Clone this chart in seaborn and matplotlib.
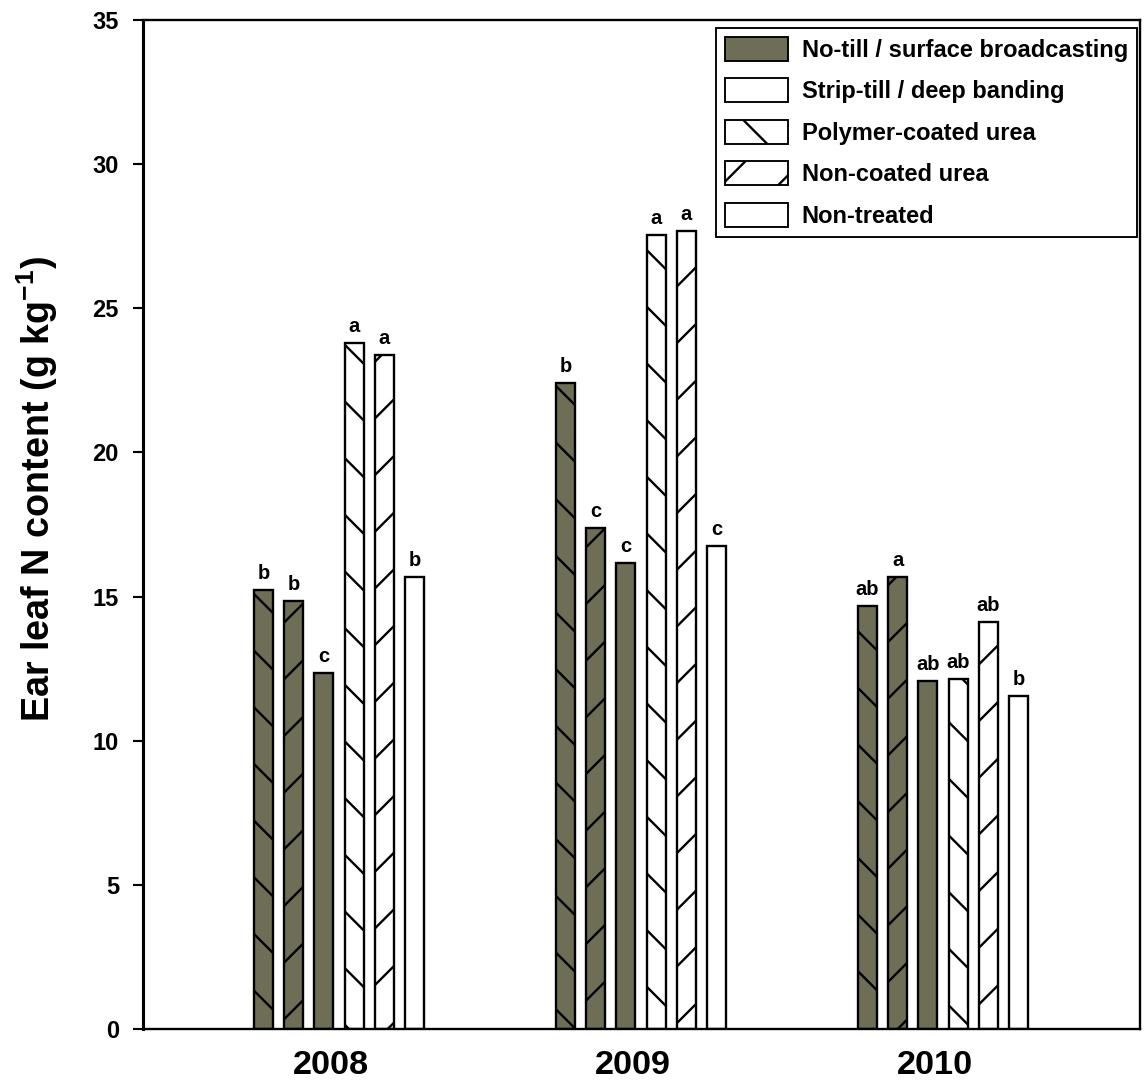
import matplotlib
matplotlib.use('Agg')
import matplotlib.pyplot as plt
import seaborn as sns
import pandas as pd
import numpy as np
from matplotlib.patches import Patch

# ---------------- data ----------------
years = ['2008', '2009', '2010']
treatments = ['NT-PCU', 'NT-NCU', 'NT-Non', 'ST-PCU', 'ST-NCU', 'ST-Non']
vals_2008 = [15.23, 14.83, 12.35, 23.80, 23.39, 15.69]
vals_2009 = [22.41, 17.37, 16.17, 27.53, 27.68, 16.75]
vals_2010 = [14.66, 15.67, 12.08, 12.14, 14.11, 11.56]
letters_2008 = ['b', 'b', 'c', 'a', 'a', 'b']
letters_2009 = ['b', 'c', 'c', 'a', 'a', 'c']
letters_2010 = ['ab', 'a', 'ab', 'ab', 'ab', 'b']
legend_labels = ['No-till / surface broadcasting', 'Strip-till / deep banding',
                 'Polymer-coated urea', 'Non-coated urea', 'Non-treated']
y_ticks = [0, 5, 10, 15, 20, 25, 30, 35]
ylabel = 'Ear leaf N content (g kg$^{-1}$)'

# ---------------- style ----------------
DARK = '#6e6e57'
DPI = 170
sns.set_style('ticks')
plt.rcParams['font.family'] = ['Liberation Sans', 'DejaVu Sans']
plt.rcParams['mathtext.default'] = 'regular'
plt.rcParams['hatch.linewidth'] = 1.0
plt.rcParams['hatch.color'] = 'black'
for k in ['text.color', 'axes.labelcolor', 'xtick.color', 'ytick.color',
          'axes.edgecolor']:
    plt.rcParams[k] = 'black'

df = pd.DataFrame({
    'year': np.repeat(years, len(treatments)),
    'treatment': treatments * len(years),
    'value': vals_2008 + vals_2009 + vals_2010,
})

face = {'NT-PCU': DARK, 'NT-NCU': DARK, 'NT-Non': DARK,
        'ST-PCU': 'white', 'ST-NCU': 'white', 'ST-Non': 'white'}
hatches = ['\\', '/', '', '\\', '/', '']

fig = plt.figure(figsize=(1145 / DPI, 1082 / DPI), dpi=DPI)
ax = fig.add_axes([0.12489, 0.04898, 0.87074, 0.93254])

sns.barplot(data=df, x='year', y='value', hue='treatment', order=years,
            hue_order=treatments, palette=face, width=0.6, gap=0.37,
            edgecolor='black', linewidth=1.0, errorbar=None, legend=False,
            saturation=1, ax=ax)

letters_by_year = [letters_2008, letters_2009, letters_2010]
for i, cont in enumerate(ax.containers):
    for bar in cont:
        bar.set_hatch(hatches[i])
        bar.set_edgecolor('black')
    labs = [letters_by_year[j][i] for j in range(len(years))]
    ax.bar_label(cont, labels=labs, padding=3, fontsize=8.5,
                 fontweight='bold', color='black')

ax.set_ylim(0, 35)
ax.set_yticks(y_ticks)
ax.set_yticklabels([str(t) for t in y_ticks], fontsize=10, fontweight='bold')
ax.set_xlim(-0.649, 2.652)
ax.set_xticks(np.arange(len(years)) - 0.027)
ax.set_xticklabels(years, fontsize=14.5, fontweight='bold')
ax.tick_params(axis='x', length=0, pad=9)
ax.tick_params(axis='y', direction='out', length=4.2, width=0.9, pad=6)
ax.set_xlabel('')
ax.set_ylabel(ylabel, fontsize=16, fontweight='bold',
              family=['Liberation Sans Narrow', 'Liberation Sans', 'DejaVu Sans'])
ax.yaxis.set_label_coords(-0.083, 0.535)

for s in ['top', 'right', 'bottom']:
    ax.spines[s].set_visible(True)
    ax.spines[s].set_linewidth(1.0)
    ax.spines[s].set_color('black')
ax.spines['left'].set_linewidth(1.3)
ax.spines['left'].set_color('black')

handles = [
    Patch(facecolor=DARK, edgecolor='black', linewidth=0.8),
    Patch(facecolor='white', edgecolor='black', linewidth=0.8),
    Patch(facecolor='white', edgecolor='black', linewidth=0.8, hatch='\\'),
    Patch(facecolor='white', edgecolor='black', linewidth=0.8, hatch='/'),
    Patch(facecolor='white', edgecolor='black', linewidth=0.8),
]
leg = ax.legend(handles, legend_labels, loc='upper right',
                bbox_to_anchor=(0.997, 0.992), borderaxespad=0,
                frameon=True, fancybox=False, edgecolor='black', framealpha=1,
                prop={'weight': 'bold', 'size': 10}, handlelength=2.67,
                handleheight=1.18, labelspacing=0.7, borderpad=0.38,
                handletextpad=0.6)
leg.get_frame().set_linewidth(0.8)

fig.savefig('out.png', dpi=DPI)
